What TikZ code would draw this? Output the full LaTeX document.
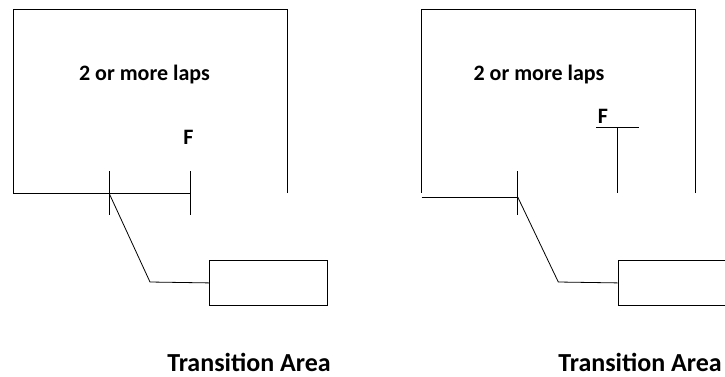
\documentclass[tikz,border=0pt]{standalone}
\usepackage{fontspec}
\setmainfont{Carlito}
\usetikzlibrary{positioning,calc}

\begin{document}
\begin{tikzpicture}[x=1pt,y=-1pt,line width=0.8pt,
  lbl/.style={font=\bfseries\fontsize{22}{26}\selectfont,inner sep=0pt,anchor=base},
  area/.style={font=\bfseries\fontsize{26}{30}\selectfont,inner sep=0pt,anchor=base},
  station/.style={draw,minimum width=118pt,minimum height=45pt,inner sep=0pt,anchor=north west}]
\useasboundingbox (0,0) rectangle (725,376);
% left: finish line across the track
\draw (287,193) -- (287,9) -- (13,9) -- (13,193) -- (190,193);
\foreach \x in {109,190} \draw (\x,171) -- (\x,215);
\coordinate (joinA) at (109,193);
\coordinate (bendA) at (150,282);
\node[station] (stationA) at (209,260) {};
\draw (joinA) -- (bendA) -- (stationA.west);
\node[lbl] (lapsA) at (144.5,80) {2 or more laps};
\node[lbl] (finA) at (188.5,144) {F};
\node[area] (areaA) at (249,371) {Transition Area};
% right: finish post inside the track
\draw (695,193) -- (695,9) -- (421.7,9) -- (421.7,193);
\coordinate (startB) at (421.7,197);
\coordinate (joinB) at (517.7,197);
\draw (startB) -- (joinB);
\draw (517.7,171) -- (517.7,215);
\coordinate (bendB) at (558.3,282);
\node[station] (stationB) at (617.7,260) {};
\draw (joinB) -- (bendB) -- (stationB.west);
\node[lbl] (finB) at (603,123) {F};
\coordinate (postL) at (596,127);
\coordinate (postR) at (639,127);
\coordinate (postTop) at (617.7,127);
\coordinate (postFoot) at (617.7,193);
\draw (postL) -- (postR);
\draw (postTop) -- (postFoot);
\node[lbl] (lapsB) at (539,80) {2 or more laps};
\node[area] (areaB) at (640,371) {Transition Area};
\end{tikzpicture}
\end{document}
